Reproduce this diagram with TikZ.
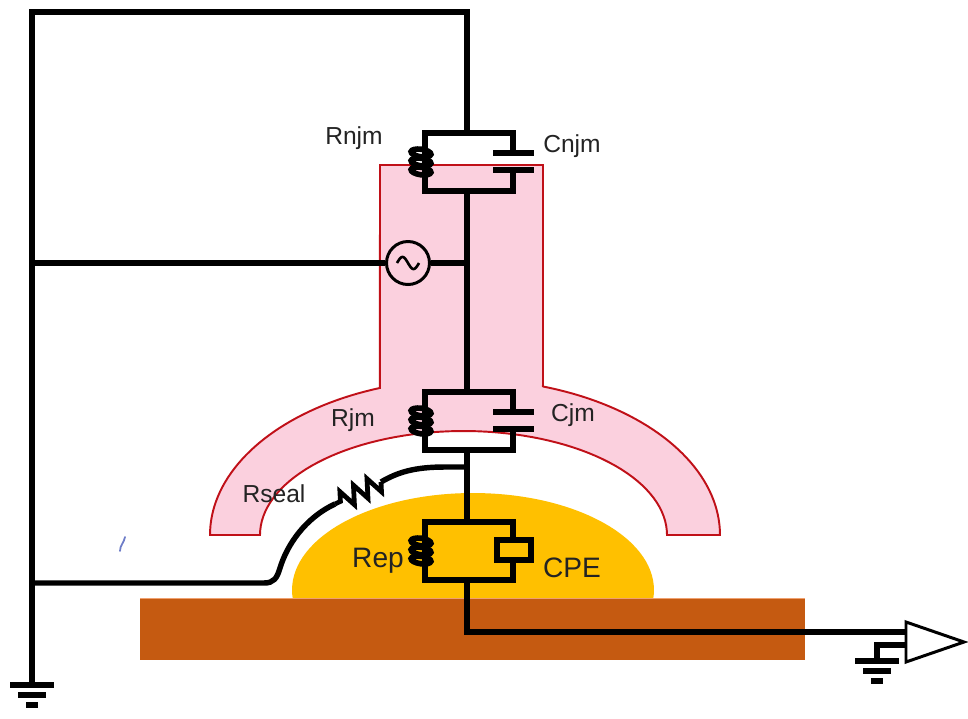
\documentclass[tikz,border=0pt]{standalone}
\usepackage{fontspec}
\setmainfont{Liberation Sans}
\usetikzlibrary{decorations.pathmorphing}
\definecolor{membrane}{RGB}{251,208,222}
\definecolor{membraneedge}{RGB}{192,16,24}
\definecolor{cellgold}{RGB}{255,192,0}
\definecolor{substrate}{RGB}{197,90,17}
\definecolor{substrateedge}{RGB}{240,160,110}
\definecolor{labelink}{RGB}{35,35,35}
\definecolor{penmark}{RGB}{110,125,200}

\tikzset{
  wire/.style={line width=3.1pt},
  plate/.style={line width=3.1pt},
  springturn/.style={line width=3.2pt},
  zigres/.style={line width=2.7pt, decorate,
    decoration={zigzag, amplitude=0.18cm, segment length=0.3cm}},
  lbl/.style={text=labelink, font=\fontsize{14}{16}\selectfont, inner sep=0pt},
  biglbl/.style={text=labelink, font=\fontsize{16}{19}\selectfont, inner sep=0pt},
  % spring-drawn resistor on the left leg of a box (leg at x=-42)
  spring/.pic={
    \draw[wire] (-42,10) -- (-42,48);
    \foreach \k in {0,1,2}
      \draw[springturn, rotate around={-8:(-46,{20+9*\k})}]
        (-46,{20+9*\k}) ellipse [x radius=0.2cm, y radius=0.075cm];
  },
  % resistor in parallel with a capacitor; origin = top centre
  rcpar/.pic={
    \coordinate (-top) at (0,0);
    \coordinate (-bot) at (0,58);
    \draw[wire] (-42,14) -- (-42,0) -- (46,0) -- (46,20);
    \draw[wire] (46,37) -- (46,58) -- (-42,58) -- (-42,44);
    \pic {spring};
    \draw[plate] (26,20) -- (67,20);
    \draw[plate] (26,37) -- (67,37);
  },
  % resistor in parallel with a constant phase element
  cpepar/.pic={
    \coordinate (-top) at (0,0);
    \coordinate (-bot) at (0,58);
    \draw[wire] (-42,14) -- (-42,0) -- (46,0) -- (46,18);
    \draw[wire] (46,38) -- (46,58) -- (-42,58) -- (-42,44);
    \pic {spring};
    \draw[wire] (30,18) rectangle (64,38);
  },
  % earth symbol; origin = top bar centre
  earth/.pic={
    \draw[plate] (-22,0) -- (22,0);
    \draw[plate] (-14,10) -- (14,10);
    \draw[plate] (-6,20) -- (6,20);
  }
}

\begin{document}
\begin{tikzpicture}[x=0.02cm,y=-0.02cm]
\useasboundingbox (0,0) rectangle (968,718);

% membrane (pink T-shaped region with arched skirt)
\filldraw[fill=membrane, draw=membraneedge, line width=1.1pt]
  (380,165) -- (543,165) -- (543,387)
  -- plot[domain=72.2:0, samples=40] ({465+255*cos(\x)},{535-156*sin(\x)})
  -- (667,535)
  -- plot[domain=0:180, samples=70] ({463.5+203.5*cos(\x)},{535-104*sin(\x)})
  -- (210,535)
  -- plot[domain=180:109.5, samples=40] ({465+255*cos(\x)},{535-156*sin(\x)})
  -- cycle;

% epithelium cell resting on the substrate
\begin{scope}
  \clip (0,0) rectangle (968,600);
  \fill[cellgold] (473,590) ellipse [x radius=3.62cm, y radius=1.94cm];
\end{scope}
\fill[substrate] (140,598) rectangle (805,660);
\draw[substrateedge, line width=0.8pt] (140,598.5) -- (805,598.5);

% small pen mark
\draw[penmark, line width=1pt, line cap=round] (125,537) .. controls (124,543) and (120,545) .. (120,551);

% key points of the circuit
\coordinate (gndL) at (32,685);
\coordinate (tl) at (32,12);
\coordinate (tr) at (467,12);
\coordinate (acL) at (32,263);
\coordinate (acJ) at (467,263);
\coordinate (sealJ) at (467,467);
\coordinate (sealL) at (32,583);
\coordinate (rsealA) at (381,482);
\coordinate (rsealB) at (335,504);
\coordinate (outBend) at (467,632);
\coordinate (ampIn) at (906,632);
\coordinate (ampGnd) at (906,645);
\coordinate (ampGndBend) at (877,645);
\coordinate (gndR) at (877,661);

% parallel elements
\pic (njm) at (467,133) {rcpar};
\pic (jm) at (467,392) {rcpar};
\pic (ep) at (467,522) {cpepar};

% AC source
\node[circle, draw, line width=1.7pt, minimum size=0.86cm, inner sep=0pt] (ac) at (408,263) {};
\draw[line width=1.5pt] plot[domain=0:360, samples=40] ({397+22*\x/360},{263-6*sin(\x)});

% wiring
\draw[wire] (gndL) -- (tl) -- (tr) -- (njm-top);
\draw[wire] (njm-bot) -- (jm-top);
\draw[wire] (acL) -- (ac);
\draw[wire] (ac) -- (acJ);
\draw[wire] (jm-bot) -- (ep-top);
\draw[wire] (sealJ) -- (445,467) .. controls (415,467) and (398,472) .. (rsealA);
\draw[zigres] (rsealA) -- (rsealB);
\draw[wire] (rsealB) .. controls (305,518) and (287,545) .. (280,568)
  .. controls (277,578) and (274,583) .. (264,583) -- (sealL);
\draw[wire] (ep-bot) -- (outBend) -- (ampIn);

% amplifier and its earth
\draw[line width=1.7pt, fill=white, line join=miter] (906,622) -- (964,642) -- (906,662) -- cycle;
\draw[wire] (ampGnd) -- (ampGndBend) -- (gndR);
\pic at (gndR) {earth};
\pic at (gndL) {earth};

% labels
\node[lbl] (tRnjm) at (354,138) {Rnjm};
\node[lbl] (tCnjm) at (572,146) {Cnjm};
\node[lbl] (tRjm) at (353,420) {Rjm};
\node[lbl] (tCjm) at (573,415) {Cjm};
\node[lbl] (tRseal) at (274,494) {Rseal};
\node[biglbl] (tRep) at (378,561) {Rep};
\node[biglbl] (tCPE) at (572,568) {CPE};
\end{tikzpicture}
\end{document}
